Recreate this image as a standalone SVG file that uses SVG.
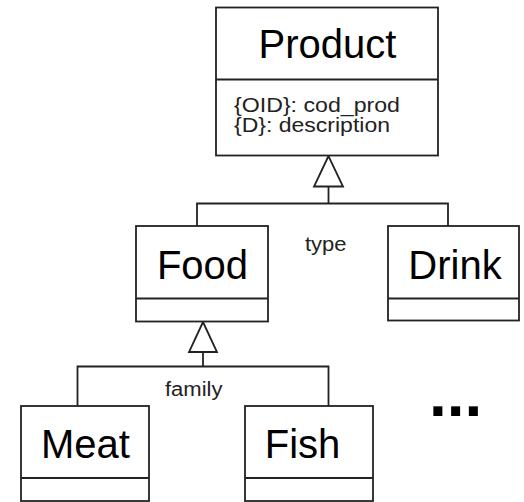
<svg xmlns="http://www.w3.org/2000/svg" width="524" height="502" viewBox="0 0 524 502">
<style>
.box{fill:#fff;stroke:#222;stroke-width:1.8}
.ln{fill:none;stroke:#222;stroke-width:1.8}
.tri{fill:#fff;stroke:#222;stroke-width:1.8;stroke-linejoin:miter}
.big{font-family:"Liberation Sans",Arial,sans-serif;font-size:40px;fill:#000;text-anchor:middle}
.sm{font-family:"Liberation Sans",Arial,sans-serif;font-size:20px;fill:#222}
.dots{font-family:"Liberation Sans",Arial,sans-serif;font-size:64px;font-weight:bold;fill:#000}
</style>
<rect width="524" height="502" fill="#fff"/>
<g id="connectors">
<line class="ln" x1="328.5" y1="186" x2="328.5" y2="203.5"/>
<polyline class="ln" points="197,226 197,203.5 448,203.5 448,226"/>
<polygon class="tri" points="328.5,156 314,186.5 343,186.5"/>
<text class="sm" x="305" y="251" textLength="41.5" lengthAdjust="spacingAndGlyphs">type</text>
<line class="ln" x1="203" y1="352" x2="203" y2="366.5"/>
<polyline class="ln" points="77.5,406 77.5,366.5 328.5,366.5 328.5,406"/>
<polygon class="tri" points="203,322 189,352 217,352"/>
<text class="sm" x="165" y="396" textLength="57.5" lengthAdjust="spacingAndGlyphs">family</text>
</g>
<g id="product">
<rect class="box" x="216" y="7.5" width="222" height="148"/>
<line class="ln" x1="216" y1="79.5" x2="438" y2="79.5"/>
<text class="big" x="327.5" y="58">Product</text>
<text class="sm" x="234" y="111.5" textLength="166" lengthAdjust="spacingAndGlyphs">{OID}: cod_prod</text>
<text class="sm" x="234" y="132" textLength="156" lengthAdjust="spacingAndGlyphs">{D}: description</text>
</g>
<g id="food">
<rect class="box" x="136" y="226" width="132" height="95.5"/>
<line class="ln" x1="136" y1="298.5" x2="268" y2="298.5"/>
<text class="big" x="202.5" y="279">Food</text>
</g>
<g id="drink">
<rect class="box" x="388" y="226" width="131" height="94.5"/>
<line class="ln" x1="388" y1="298.5" x2="519" y2="298.5"/>
<text class="big" x="455" y="278.5">Drink</text>
</g>
<g id="meat">
<rect class="box" x="21" y="406" width="128" height="95"/>
<line class="ln" x1="21" y1="478" x2="149" y2="478"/>
<text class="big" x="85.5" y="458">Meat</text>
</g>
<g id="fish">
<rect class="box" x="245" y="406" width="128" height="95"/>
<line class="ln" x1="245" y1="478" x2="373" y2="478"/>
<text class="big" x="302.5" y="458">Fish</text>
</g>
<g id="more">
<text class="dots" x="429" y="416">...</text>
</g>
</svg>
